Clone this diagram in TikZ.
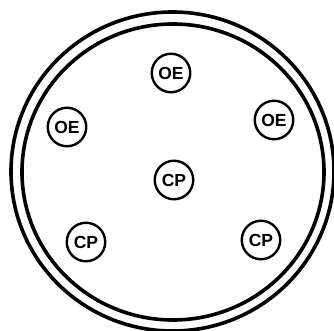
\documentclass[tikz,border=0pt]{standalone}
\usepackage{fontspec}
\setmainfont{Liberation Sans}
\newcommand{\wellfont}{\fontsize{17.5}{17.5}\selectfont\bfseries}
\begin{document}
\begin{tikzpicture}[x=1pt,y=-1pt,
  ring/.style={draw=black,line width=3.6pt},
  well/.style={circle,draw=black,line width=2.4pt,minimum size=38.5pt,inner sep=0pt,
    font=\wellfont}]
\useasboundingbox (0,0) rectangle (334,331);
\coordinate (c) at (172.5,171.5);
\draw[ring] (c) ellipse [x radius=161.5, y radius=159.5];
\draw[ring] (173,172) ellipse [x radius=151, y radius=148];
\node[well] (oe1) at (171,73) {OE};
\node[well] (oe2) at (67,127) {OE};
\node[well] (oe3) at (274,120) {OE};
\node[well] (cp1) at (174,180) {CP};
\node[well] (cp2) at (86,242) {CP};
\node[well] (cp3) at (261,240) {CP};
\end{tikzpicture}
\end{document}
